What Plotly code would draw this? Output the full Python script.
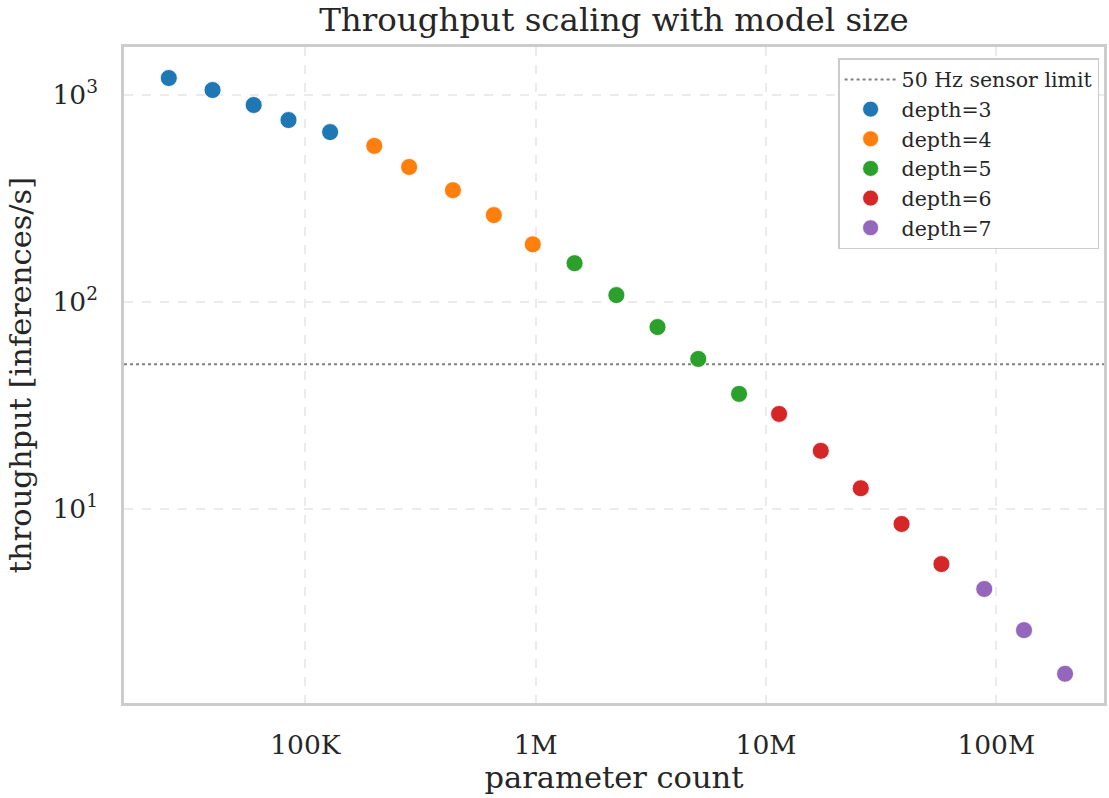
import plotly.graph_objects as go

# Parameter counts and measured throughput, grouped by network depth
depths = [3, 4, 5, 6, 7]
params = {
    3: [25.5e3, 39.5e3, 59.6e3, 84.4e3, 128e3],
    4: [199e3, 282e3, 437e3, 658e3, 971e3],
    5: [1.475e6, 2.24e6, 3.38e6, 5.08e6, 7.64e6],
    6: [11.4e6, 17.3e6, 25.8e6, 38.8e6, 57.8e6],
    7: [88.7e6, 132e6, 199e6],
}
throughput = {
    3: [1208, 1057, 895, 757, 662],
    4: [568, 449, 347, 263, 190],
    5: [154, 108, 75.7, 53.1, 36.0],
    6: [28.8, 19.1, 12.6, 8.47, 5.42],
    7: [4.11, 2.60, 1.60],
}
colors = ["#1f77b4", "#ff7f0e", "#2ca02c", "#d62728", "#9467bd"]

sensor_limit_hz = 50
x_range_log = [4.212, 8.468]
y_range_log = [0.063, 3.232]

x_tickvals = [1e5, 1e6, 1e7, 1e8]
x_ticktext = ["100K", "1M", "10M", "100M"]
y_tickvals = [10, 100, 1000]
y_ticktext = ["10<sup>1</sup>", "10<sup>2</sup>", "10<sup>3</sup>"]

FONT = "DejaVu Serif"
TEXT = "#262626"
SPINE = "#cccccc"
GRID = "#ebebeb"

fig = go.Figure()

fig.add_trace(go.Scatter(
    x=[10 ** x_range_log[0], 10 ** x_range_log[1]],
    y=[sensor_limit_hz, sensor_limit_hz],
    mode="lines",
    line=dict(color="#808080", width=2, dash="dot"),
    name="50 Hz sensor limit",
))

for d, c in zip(depths, colors):
    fig.add_trace(go.Scatter(
        x=params[d], y=throughput[d],
        mode="markers",
        marker=dict(color=c, size=17, line=dict(color="white", width=0.8)),
        name=f"depth={d}",
    ))

fig.update_layout(
    width=1109, height=798,
    margin=dict(l=124, r=2, t=47, b=95),
    paper_bgcolor="white", plot_bgcolor="white",
    font=dict(family=FONT, color=TEXT, size=26),
    title=dict(text="Throughput scaling with model size", xref="paper", x=0.5,
               xanchor="center", y=0.975, yanchor="middle",
               font=dict(size=32.5, color=TEXT)),
    showlegend=True,
    legend=dict(x=0.995, y=0.983, xanchor="right", yanchor="top",
                bgcolor="white", bordercolor=SPINE, borderwidth=1.5,
                font=dict(size=20.5, color=TEXT), tracegroupgap=0, itemwidth=52),
)

fig.update_xaxes(
    type="log", range=x_range_log,
    tickvals=x_tickvals, ticktext=x_ticktext,
    showgrid=True, gridcolor=GRID, gridwidth=1.5, griddash="dash",
    showline=True, linecolor=SPINE, linewidth=2.5, mirror=True,
    ticks="", ticklabelstandoff=16, tickfont=dict(size=26.5),
    title=dict(text="parameter count", font=dict(size=30.5), standoff=6),
    zeroline=False,
)
fig.update_yaxes(
    type="log", range=y_range_log,
    tickvals=y_tickvals, ticktext=y_ticktext,
    showgrid=True, gridcolor=GRID, gridwidth=1.5, griddash="dash",
    showline=True, linecolor=SPINE, linewidth=2.5, mirror=True,
    ticks="", ticklabelstandoff=18, tickfont=dict(size=26.5),
    title=dict(text="throughput [inferences/s]", font=dict(size=30.5), standoff=12),
    zeroline=False,
)

fig.write_html("out.html")
